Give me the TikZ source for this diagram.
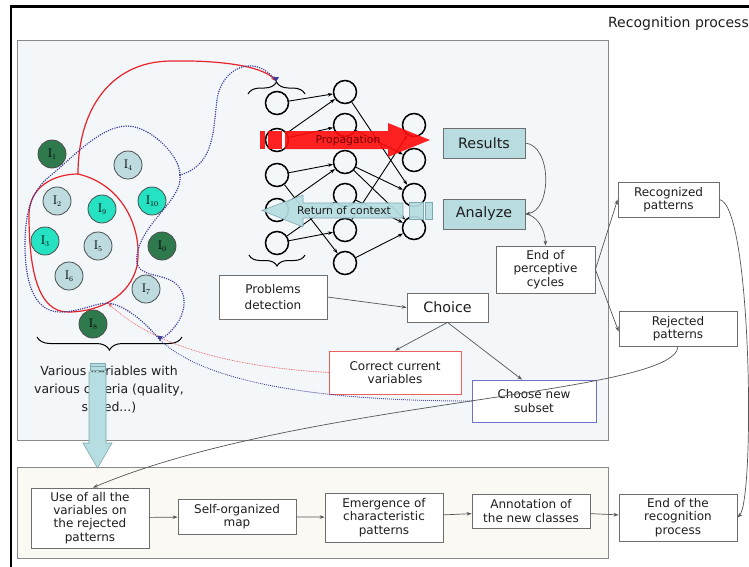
\documentclass[tikz,border=0pt]{standalone}
\usepackage{fontspec}
\newfontfamily\vf{DejaVu Sans}
\usetikzlibrary{arrows.meta,decorations.pathreplacing}

\definecolor{panelA}{HTML}{F3F7FA}
\definecolor{panelB}{HTML}{FBF9F4}
\definecolor{panelline}{HTML}{8A8A8A}
\definecolor{boxline}{HTML}{6E6E6E}
\definecolor{cyanbox}{HTML}{B8DCE0}
\definecolor{txt}{HTML}{1E1E1E}
\definecolor{conline}{HTML}{555555}
\definecolor{dotblue}{HTML}{3C3C96}
\definecolor{dotred}{HTML}{EE5555}
\definecolor{arrred}{HTML}{FF0A0A}
\definecolor{arrblue}{HTML}{B5DDE2}
\definecolor{arrblueline}{HTML}{7FA9AE}
\definecolor{darkgreen}{HTML}{2F7A4D}
\definecolor{brightcyan}{HTML}{25E2C2}
\definecolor{lightvar}{HTML}{BEDCE0}
\definecolor{redframe}{HTML}{EE6060}
\definecolor{blueframe}{HTML}{7070C8}
\definecolor{redcurve}{HTML}{E8242A}

\begin{document}
\begin{tikzpicture}[x=1pt,y=-1pt,
  box/.style={draw=boxline, fill=white, line width=0.8pt, inner sep=0pt, align=center,
    font=\vf\fontsize{12}{13.3}\selectfont, text=txt},
  cbox/.style={box, fill=cyanbox, font=\vf\fontsize{14.3}{16}\selectfont},
  conn/.style={draw=conline, line width=0.7pt, -{Stealth[length=5pt,width=3.6pt]}},
  neuron/.style={circle, draw=black, line width=1.5pt, minimum size=23pt, inner sep=0pt},
  syn/.style={draw=black, line width=0.9pt, -{Stealth[length=5pt,width=3.6pt]}},
  varnode/.style={circle, draw=gray!60!black, line width=0.8pt, minimum size=28pt, inner sep=0pt},
  bluedots/.style={draw=dotblue, line width=1.6pt, line cap=round, dash pattern=on 0pt off 2.3pt},
  reddots/.style={draw=dotred, line width=1pt, line cap=round, dash pattern=on 0pt off 1.7pt},
  bracestyle/.style={draw=black, line width=1pt, decorate}
]
\useasboundingbox (0,0) rectangle (749,566);
\fill[white] (0,0) rectangle (749,566);

% outer frame
\draw[line width=2.2pt] (11,570) -- (11,6.5) -- (760,6.5);
\node[anchor=base east, font=\vf\fontsize{14}{16}\selectfont, text=txt, inner sep=0pt] (title) at (749,27) {Recognition process};

% panels
\draw[fill=panelA, draw=panelline, line width=0.9pt] (17,40) rectangle (608,440);
\draw[fill=panelB, draw=panelline, line width=0.9pt] (17,467) rectangle (608,558);

% ---------- neural network ----------
\foreach \n/\y in {1/103,2/140,3/175,4/210,5/243} \node[neuron] (L\n) at (277,\y) {};
\foreach \n/\y in {1/92,2/125,3/162,4/195,5/230,6/263} \node[neuron] (M\n) at (345,\y) {};
\foreach \n/\y in {1/125,2/160,3/195,4/228} \node[neuron] (R\n) at (414,\y) {};

\foreach \a/\b in {L1/M1,L2/M1,L2/M2,L3/M3,L4/M3,L3/M6,L5/M4,L5/M5,
                   M1/R3,M2/R2,M3/R3,M3/R4,M4/R4,M5/R1,M6/R4}
  \draw[syn] (\a) -- (\b);

\draw[bracestyle, decoration={brace, amplitude=12pt}] (248,94) -- (305,94);
\draw[bracestyle, decoration={brace, amplitude=11pt}] (305,255) -- (249,255);
\coordinate (nettop) at (276,81);

% propagation arrow
\begin{scope}[fill opacity=0.9]
\fill[arrred] (260,131) rectangle (265,149);
\fill[arrred] (268,131) rectangle (282,149);
\fill[arrred] (285,131) -- (388,131) -- (388,123) -- (430,140) -- (388,157) -- (388,149) -- (285,149) -- cycle;
\end{scope}
\node[font=\vf\fontsize{10.8}{12}\selectfont, text=red!45!black] (proptext) at (348,140.5) {Propagation};

% return-of-context arrow
\begin{scope}[fill opacity=0.92]
\filldraw[fill=arrblue, draw=arrblueline, line width=0.6pt] (403,203) -- (303,203) -- (303,195) -- (262,210.5) -- (303,227) -- (303,218) -- (403,218) -- cycle;
\filldraw[fill=arrblue, draw=arrblueline, line width=0.6pt] (409,202) rectangle (423,219);
\filldraw[fill=arrblue, draw=arrblueline, line width=0.6pt] (425.5,202) rectangle (432,219);
\end{scope}
\node[font=\vf\fontsize{10.8}{12}\selectfont, text=txt] (rettext) at (344,210.5) {Return of context};

% ---------- variables ----------
\foreach \nm/\x/\y/\c/\lab in {
   v1/52/154/darkgreen/1, v4/128/165/lightvar/4, v2/57/201/lightvar/2,
   v9/102/209/brightcyan/9, v10/152/201/brightcyan/10, v3/45/241/brightcyan/3,
   v5/98/246/lightvar/5, v0/162/246/darkgreen/0, v6/69/276/lightvar/6,
   v7/146/289/lightvar/7, v8/93/324/darkgreen/8}
  \node[varnode, fill=\c] (\nm) at (\x,\y) {\fontsize{12.5}{13}\selectfont I\raisebox{-0.35ex}{\fontsize{7.5}{8}\selectfont\lab}};

% red selection blob and link to the network input
\draw[redcurve, line width=1.2pt] (78,174) .. controls (55,174) and (29,186) .. (29,215)
   .. controls (29,270) and (38,312) .. (68,312) .. controls (100,312) and (130,296) .. (137,266)
   .. controls (143,232) and (125,185) .. (78,174);
\draw[redcurve, line width=1.2pt, -{Stealth[length=5pt,width=4pt]}] (78,174) .. controls (78,110) and (110,62) .. (170,61)
   .. controls (220,60) and (262,66) .. (nettop);

% blue dotted subset
\coordinate (bj) at (180,175);
\coordinate (bl) at (108,303);
\coordinate (bb) at (160,340);
\draw[bluedots] (bj) .. controls (215,165) and (213,130) .. (217,100) .. controls (221,68) and (255,52) .. (nettop);
\fill[dotblue] (nettop) ++(-3,-4) -- ++(6,0) -- ++(-3,5) -- cycle;
\draw[bluedots] (bj) .. controls (180,155) and (150,126) .. (127,126) .. controls (100,126) and (70,160) .. (50,176)
   .. controls (30,192) and (25,215) .. (25,245) .. controls (25,290) and (38,312) .. (60,312)
   .. controls (80,312) and (95,303) .. (bl);
\draw[bluedots] (bj) .. controls (183,200) and (142,222) .. (137,255) .. controls (134,276) and (152,272) .. (170,280)
   .. controls (192,290) and (188,322) .. (bb);
\draw[bluedots] (bb) .. controls (145,322) and (125,305) .. (bl);

\draw[bracestyle, decoration={brace, amplitude=13pt}] (182,337) -- (37,337);

% ---------- boxes ----------
\node[cbox, minimum width=82pt, minimum height=30pt] (results) at (484,143) {Results};
\node[cbox, minimum width=82pt, minimum height=30pt] (analyze) at (484,214) {Analyze};
\node[box, minimum width=99pt, minimum height=47pt] (endper) at (545.5,269.5) {End of\\perceptive\\cycles};
\node[box, minimum width=81pt, minimum height=29pt, font=\vf\fontsize{14.3}{16}\selectfont] (choice) at (447.5,307.5) {Choice};
\node[box, minimum width=101pt, minimum height=35pt] (recog) at (668.5,199.5) {Recognized\\patterns};
\node[box, minimum width=118pt, minimum height=35pt] (reject) at (678,328.5) {Rejected\\patterns};
\node[box, minimum width=108pt, minimum height=44pt, font=\vf\fontsize{12}{16.5}\selectfont] (problems) at (273,297) {Problems\\detection};
\node[box, draw=redframe, minimum width=132pt, minimum height=43pt] (correct) at (395,372.5) {Correct current\\variables};
\node[box, draw=blueframe, minimum width=124pt, minimum height=42pt] (choose) at (534,401) {Choose new\\subset};

\node[box, minimum width=118pt, minimum height=60pt] (use) at (90,518) {Use of all the\\variables on\\the rejected\\patterns};
\node[box, minimum width=118pt, minimum height=35pt] (som) at (237,516.5) {Self-organized\\map};
\node[box, minimum width=118pt, minimum height=49pt] (emerg) at (384,517.5) {Emergence of\\characteristic\\patterns};
\node[box, minimum width=118pt, minimum height=34pt] (annot) at (531,511) {Annotation of\\the new classes};
\node[box, minimum width=118pt, minimum height=47pt] (endrec) at (678,517.5) {End of the\\recognition\\process};

% variables caption and the arrow down to the second stage
\node[font=\vf\fontsize{12.5}{18.2}\selectfont, align=center, text=txt] (vartext) at (109,390) {Various variables with\\various criteria (quality,\\speed...)};
\filldraw[fill=arrblue, draw=arrblueline, line width=0.6pt] (89,372) -- (106,372) -- (106,443) -- (112,443) -- (97.5,468) -- (83,443) -- (89,443) -- cycle;
\filldraw[fill=arrblue, draw=arrblueline, line width=0.6pt] (90,363) rectangle (105,370);
\draw[arrblueline, line width=0.5pt] (90,366.5) -- (105,366.5);

% dotted feedback links
\draw[reddots, -{Stealth[length=5pt,width=3.6pt]}] (correct.west) .. controls (250,368) and (160,352) .. (bl);
\draw[bluedots, line width=1.2pt, dash pattern=on 0pt off 2pt] (choose.west) .. controls (300,401) and (200,378) .. (bb);
\fill[dotblue] (bb) ++(-3,-4.5) -- ++(6,1) -- ++(-3,3.5) -- cycle;

% ---------- connectors ----------
\draw[conn] (results.east) .. controls (552,146) and (552,210) .. (analyze.east);
\draw[conn] (analyze.east) .. controls (536,215) and (545,228) .. (endper.north);
\draw[conn] (endper.east) -- (recog.west);
\draw[conn] (endper.east) -- ([yshift=-3pt]reject.west);
\draw[conn] (problems.east) -- (choice.west);
\draw[conn] (choice.south) -- (correct.north);
\draw[conn] (choice.south) -- ([xshift=-12pt]choose.north);
\draw[conn] (reject.south) .. controls (676,395) and (300,400) .. ([xshift=3pt]use.north);
\draw[conn] (recog.east) .. controls (752,205) and (755,500) .. (endrec.east);
\draw[conn] (use) -- (som);
\draw[conn] (som) -- (emerg);
\draw[conn] (emerg) -- (annot);
\draw[conn] (annot) -- (endrec);
\end{tikzpicture}
\end{document}
